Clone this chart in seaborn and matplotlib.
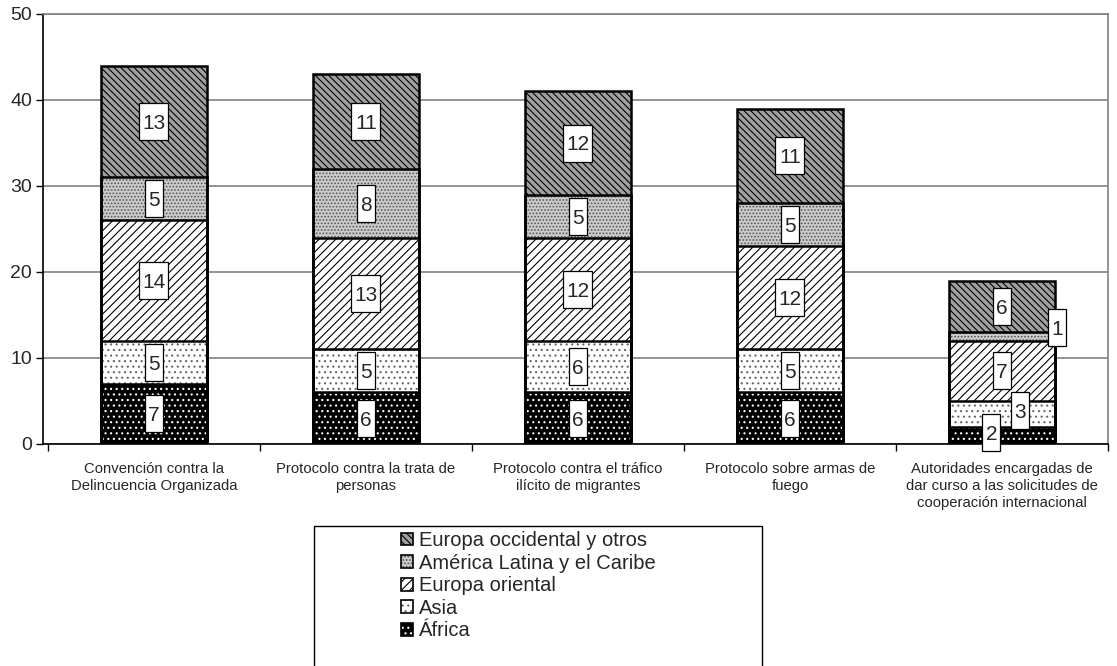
import matplotlib
matplotlib.use("Agg")
import matplotlib.pyplot as plt
import seaborn as sns
import numpy as np
from matplotlib.patches import Rectangle, Patch
from matplotlib.transforms import ScaledTranslation
from matplotlib.legend_handler import HandlerTuple

categories = ["Convención contra la\nDelincuencia Organizada",
              "Protocolo contra la trata de\npersonas",
              "Protocolo contra el tráfico\nilícito de migrantes",
              "Protocolo sobre armas de\nfuego",
              "Autoridades encargadas de\ndar curso a las solicitudes de\ncooperación internacional"]
series_names = ["África", "Asia", "Europa oriental", "América Latina y el Caribe", "Europa occidental y otros"]
africa = [7, 6, 6, 6, 2]
asia = [5, 5, 6, 5, 3]
europa_oriental = [14, 13, 12, 12, 7]
america_latina = [5, 8, 5, 5, 1]
europa_occidental = [13, 11, 12, 11, 6]
yticks = [0, 10, 20, 30, 40, 50]

series = [africa, asia, europa_oriental, america_latina, europa_occidental]
styles = [
    dict(color="black", edgecolor="white", hatch="..."),
    dict(color="white", edgecolor="#666666", hatch="..."),
    dict(color="white", edgecolor="black", hatch="////"),
    dict(color="#cccccc", edgecolor="#555555", hatch="....."),
    dict(color="#a0a0a0", edgecolor="black", hatch="\\\\\\\\\\"),
]

sns.set_theme(style="white")
plt.rcParams["font.family"] = ["Liberation Sans", "DejaVu Sans"]
plt.rcParams["hatch.linewidth"] = 0.8

fig = plt.figure(figsize=(11.17, 6.66), dpi=100)
ax = fig.add_axes([43/1117, 1-444/666, (1108-43)/1117, 430/666])

cum = np.cumsum(np.array(series), axis=0)
bar_w = 0.5
for k in range(len(series)-1, -1, -1):
    st = styles[k]
    sns.barplot(x=categories, y=cum[k], order=categories, ax=ax, width=bar_w,
                color=st["color"], edgecolor=st["edgecolor"], hatch=st["hatch"],
                linewidth=0, saturation=1, zorder=2)

for p in list(ax.patches):
    ax.add_patch(Rectangle(p.get_xy(), p.get_width(), p.get_height(), fill=False,
                           edgecolor="black", linewidth=1.8, zorder=3))

# labels with tall white boxes
offsets = {(4, 0): (-0.05, 0.35), (4, 1): (0.085, 0.45), (4, 3): (0.26, 1.0)}
for k, vals in enumerate(series):
    for i, v in enumerate(vals):
        bottom = cum[k][i] - v
        dx, dy = offsets.get((i, k), (0, 0))
        xc, yc = i + dx, bottom + v/2 + dy
        s = str(v)
        w = (18 if len(s) == 1 else 29) / 100
        h = 37 / 100
        tr = fig.dpi_scale_trans + ScaledTranslation(xc, yc, ax.transData)
        ax.add_patch(Rectangle((-w/2, -h/2), w, h, transform=tr, facecolor="white",
                               edgecolor="black", linewidth=0.9, zorder=4, clip_on=False))
        ax.text(xc, yc, s, ha="center", va="center_baseline", fontsize=15, zorder=5)

ax.set_xlim(-0.523, 4.453)
ax.set_ylim(0, 50)
ax.set_yticks(yticks)
ax.set_yticklabels([str(t) for t in yticks], fontsize=14)
ax.set_xlabel("")
ax.set_ylabel("")
ax.yaxis.grid(True, color="#808080", linewidth=1.2)
ax.set_axisbelow(True)
ax.tick_params(axis="y", left=True, length=5, width=1, color="black", pad=3)
ax.tick_params(axis="x", which="major", length=0, labelsize=10.7, pad=13)
ax.set_xticks(np.arange(-0.5, 4.6, 1.0), minor=True)
ax.tick_params(axis="x", which="minor", bottom=True, length=5, width=1, color="black")
for lab in ax.get_xticklabels():
    lab.set_multialignment("center")
    lab.set_linespacing(1.25)
for s in ["top", "right"]:
    ax.spines[s].set_color("#808080")
    ax.spines[s].set_linewidth(1.2)
for s in ["left", "bottom"]:
    ax.spines[s].set_color("black")
    ax.spines[s].set_linewidth(1.2)

# legend
handles, labels = [], []
for k in range(len(series)-1, -1, -1):
    st = styles[k]
    handles.append((Patch(facecolor=st["color"], edgecolor=st["edgecolor"], hatch=st["hatch"], linewidth=0),
                    Patch(fill=False, edgecolor="black", linewidth=1.2)))
    labels.append(series_names[k])
leg = fig.legend(handles=handles, labels=labels, loc="upper left",
                 bbox_to_anchor=(401/1117, 1-531/666),
                 handler_map={tuple: HandlerTuple(ndivide=1, pad=0)},
                 frameon=False, fontsize=14.5, handlelength=0.6, handleheight=0.6,
                 handletextpad=0.3, labelspacing=0.18, borderpad=0, borderaxespad=0)
fig.add_artist(Rectangle((314/1117, -0.01), (762-314)/1117, (666-526)/666 + 0.01,
                         transform=fig.transFigure, fill=False, edgecolor="black", linewidth=1))

fig.savefig("out.png", dpi=100)
